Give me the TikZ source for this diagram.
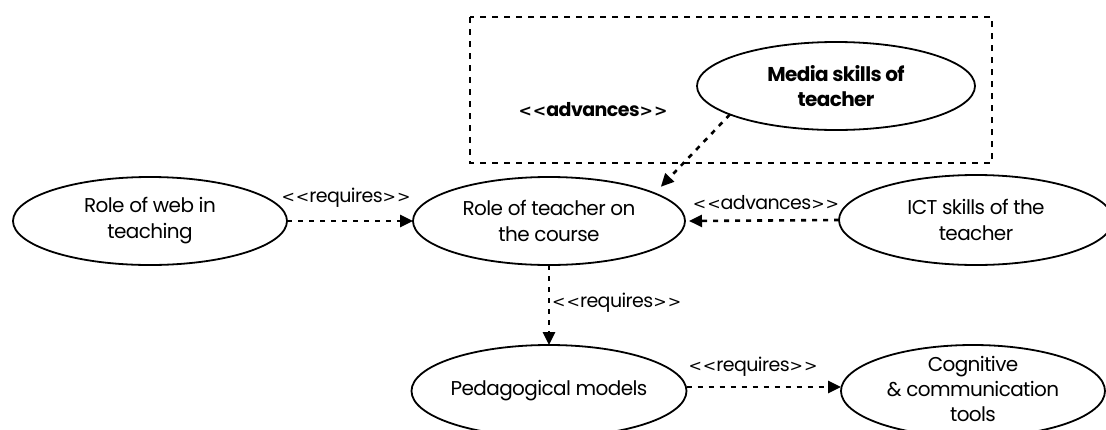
\documentclass[tikz,border=0pt]{standalone}
\usepackage{fontspec}
\setmainfont{Poppins}[LetterSpace=-3]
\newfontfamily\symf{DejaVu Sans}
\newcommand\ltt{{\symf\fontsize{16}{18}\selectfont<}}
\newcommand\gtt{{\symf\fontsize{16}{18}\selectfont>}}
\newcommand\stereo[1]{\ltt\kern1pt\ltt{}#1\gtt\kern1pt\gtt}
\usetikzlibrary{arrows.meta,shapes.geometric}
\begin{document}
\begin{tikzpicture}[x=1pt,y=-1pt,
  uc/.style={draw,ellipse,line width=1.8pt,inner sep=0pt,outer sep=0pt},
  txt/.style={align=center,inner sep=0pt,font=\fontsize{20}{26}\selectfont},
  dep/.style={line width=2.6pt,dash pattern=on 5pt off 6pt,
    -{Triangle[length=13pt,width=12pt]}},
  lbl/.style={font=\fontsize{19}{22}\selectfont,inner sep=0pt}]
\useasboundingbox (0,0) rectangle (1106,429);
\fill[white] (0,0) rectangle (1106,429);
% group box
\draw[line width=2.4pt,dash pattern=on 6pt off 6pt] (470,17) rectangle (992,163);
\node[lbl,font=\bfseries\fontsize{19}{22}\selectfont] (adv) at (593,110) {\stereo{advances}};
% use cases
\node[uc,minimum width=278pt,minimum height=88pt,
  label={[txt,font=\bfseries\fontsize{20}{25}\selectfont]center:Media skills of\\teacher}] (media) at (836,86) {};
\node[uc,minimum width=274pt,minimum height=88pt,
  label={[txt]center:Role of web in\\teaching}] (web) at (150,221) {};
\node[uc,minimum width=272pt,minimum height=88pt,
  label={[txt]center:Role of teacher on\\the course}] (teacher) at (549,221) {};
\node[uc,minimum width=274pt,minimum height=90pt,
  label={[txt]center:ICT skills of the\\teacher}] (ict) at (976,220) {};
\node[uc,minimum width=275pt,minimum height=92pt,
  label={[txt]center:Pedagogical models}] (ped) at (549,391) {};
\node[uc,minimum width=264pt,minimum height=92pt,
  label={[txt,font=\fontsize{20}{25}\selectfont,yshift=2pt]center:Cognitive\\\&~communication\\tools}] (cog) at (973,391) {};
% connectors
\draw[dep] (web.east) -- (teacher.west);
\node[lbl] (l1) at (346,198) {\stereo{requires}};
\draw[dep] (ict.west) -- ([xshift=4pt]teacher.east);
\node[lbl] (l2) at (766,203) {\stereo{advances}};
\draw[dep] (media.195) -- ([shift={(13pt,4pt)}]teacher.17);
\draw[dep] (teacher.south) -- (ped.north);
\node[lbl,anchor=west] (l3) at (552,303) {\stereo{requires}};
\draw[dep] ([yshift=4pt]ped.east) -- ([yshift=4pt]cog.west);
\node[lbl] (l4) at (753,367) {\stereo{requires}};
\end{tikzpicture}
\end{document}
